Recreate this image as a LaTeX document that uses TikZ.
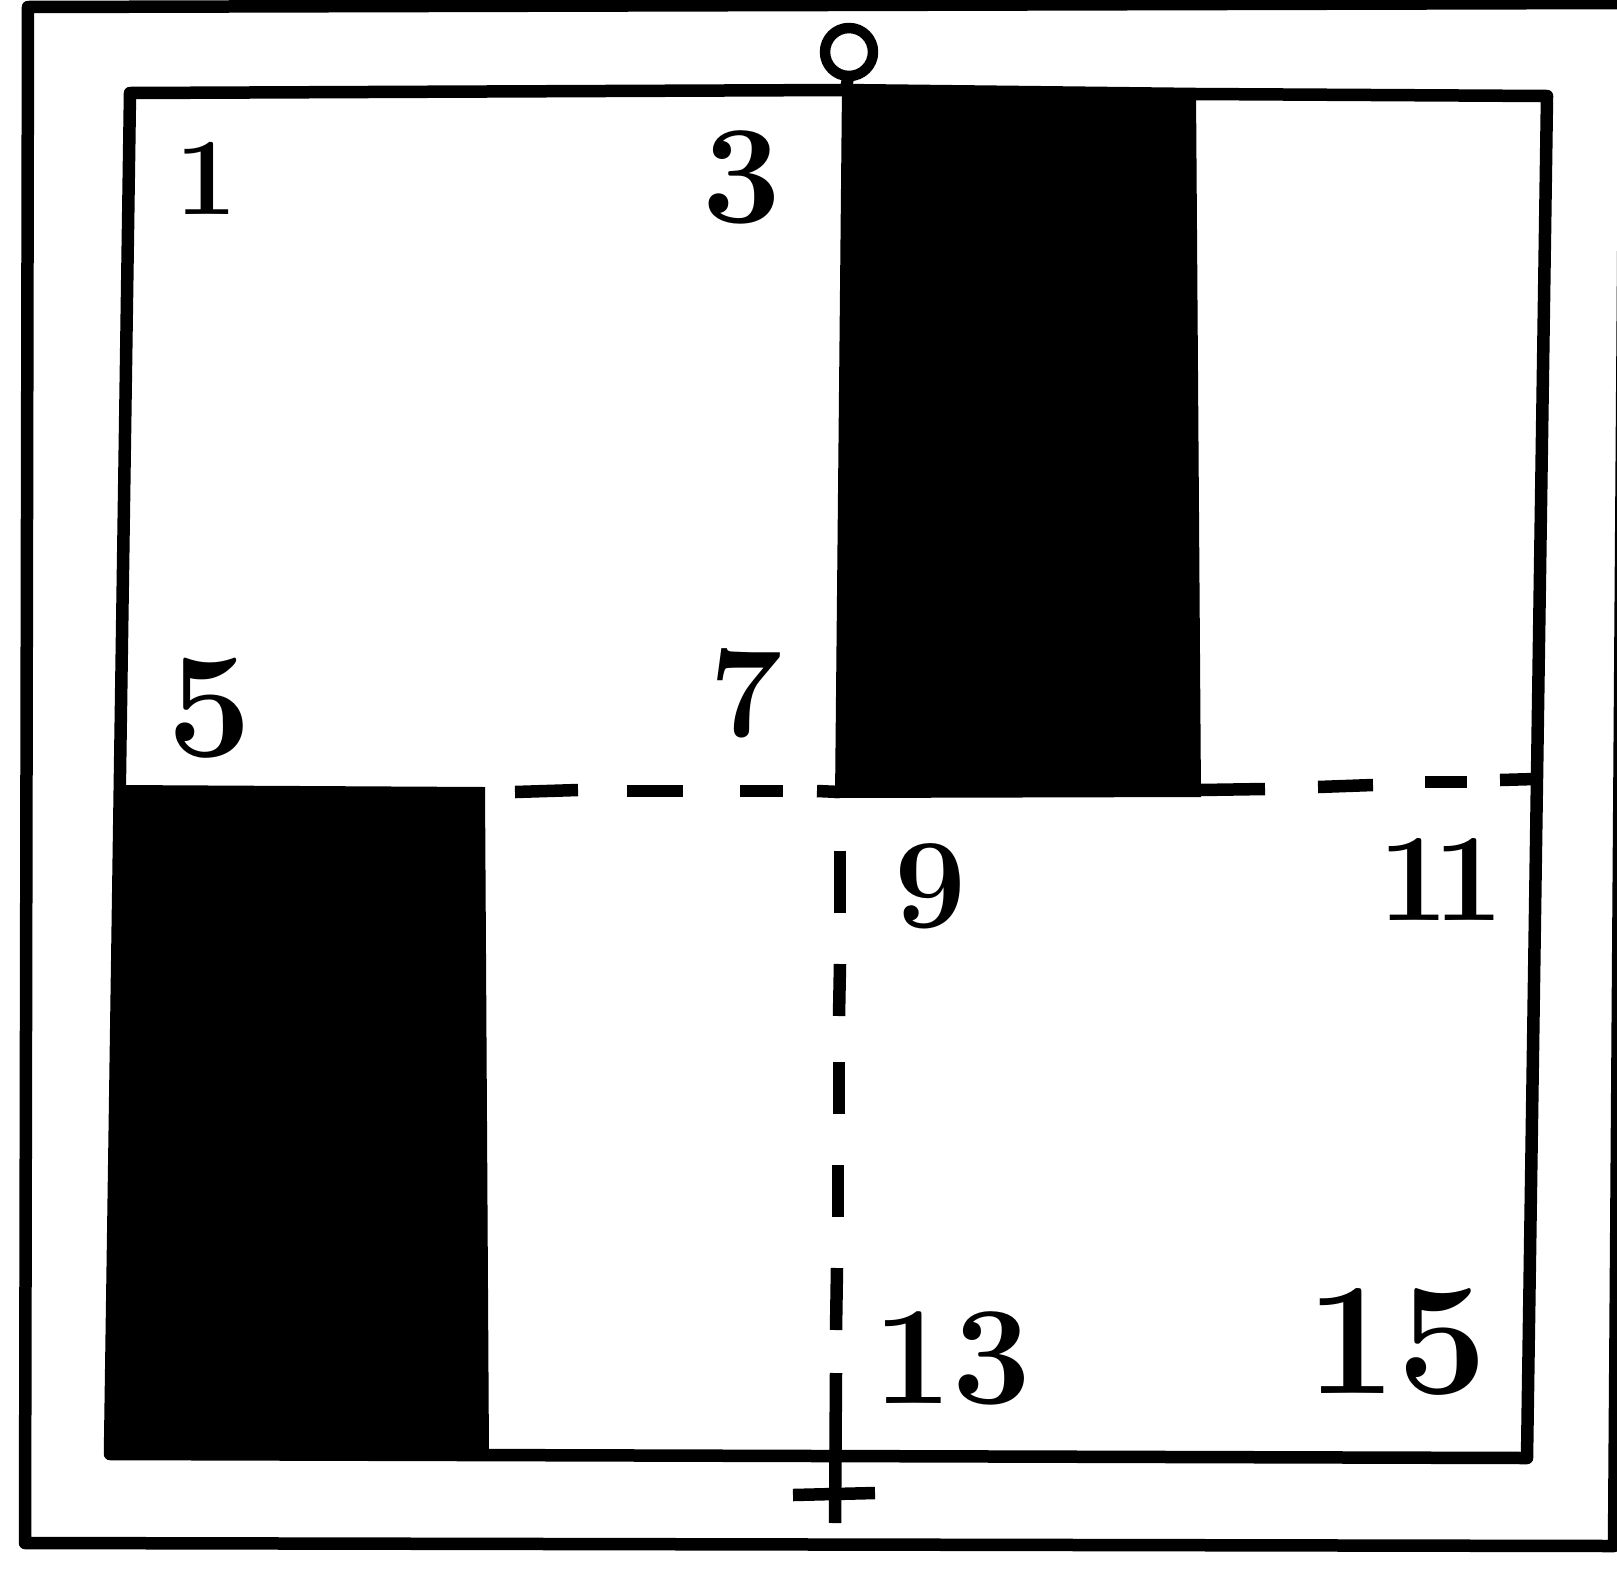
\documentclass[tikz,border=0pt]{standalone}
\begin{document}
\begin{tikzpicture}[x=1pt,y=-1pt,line join=round]
\tikzset{
  frame/.style={line width=12.5pt},
  dashseg/.style={line width=12.5pt,line cap=butt},
  dig/.style={inner sep=0pt,font=\bfseries\fontsize{#1}{#1}\selectfont}
}
\useasboundingbox (0,0) rectangle (1617,1580);
% black fields
\fill (842,86) -- (1196,90) -- (1201,797) -- (835,798) -- cycle;
\fill (119,785) -- (485,787) -- (489,1457) -- (107,1457) -- cycle;
% outer frame
\draw[frame] (28,7) -- (1625,3) -- (1614,1546) -- (25,1543) -- cycle;
% inner square
\draw[frame] (130,93) -- (842,90) -- (1196,94) -- (1547,96) -- (1527,1458) -- (110,1454) -- cycle;
% top circle
\draw[line width=10.5pt] (849,52) circle[radius=24pt];
\draw[line width=12pt] (849,74) -- (845,92);
% horizontal dashed line
\draw[dashseg] (515,792) -- (578,790);
\draw[dashseg] (627,791) -- (683,791);
\draw[dashseg] (740,791) -- (783,791);
\draw[dashseg] (817,791) -- (840,792);
\draw[dashseg] (1200,790) -- (1265,789);
\draw[dashseg] (1318,787) -- (1373,785);
\draw[dashseg] (1425,782) -- (1467,782);
\draw[dashseg] (1500,780) -- (1535,779);
% vertical dashed line
\draw[dashseg] (840,851) -- (840,913);
\draw[dashseg] (840,964) -- (839,1016);
\draw[dashseg] (839,1062) -- (839,1114);
\draw[dashseg] (838,1165) -- (838,1217);
\draw[dashseg] (837,1268) -- (836,1330);
\draw[dashseg] (836,1373) -- (835,1523);
% cross bar
\draw[dashseg] (793,1495) -- (875,1493);
% numbers
\node[dig=110] (n1) at (206,178) {1};
\node[dig=140] (n3) at (742,177) {3};
\node[dig=150] (n5) at (210,708) {5};
\node[dig=130] (n7) at (746,693) {7};
\node[dig=128] (n9) at (931,886) {9};
\node[dig=125] (n11) at (1441,879) {1\kern-0.12em1};
\node[dig=140] (n13) at (952,1358) {13};
\node[dig=160] (n15) at (1397,1342) {15};
\end{tikzpicture}
\end{document}
